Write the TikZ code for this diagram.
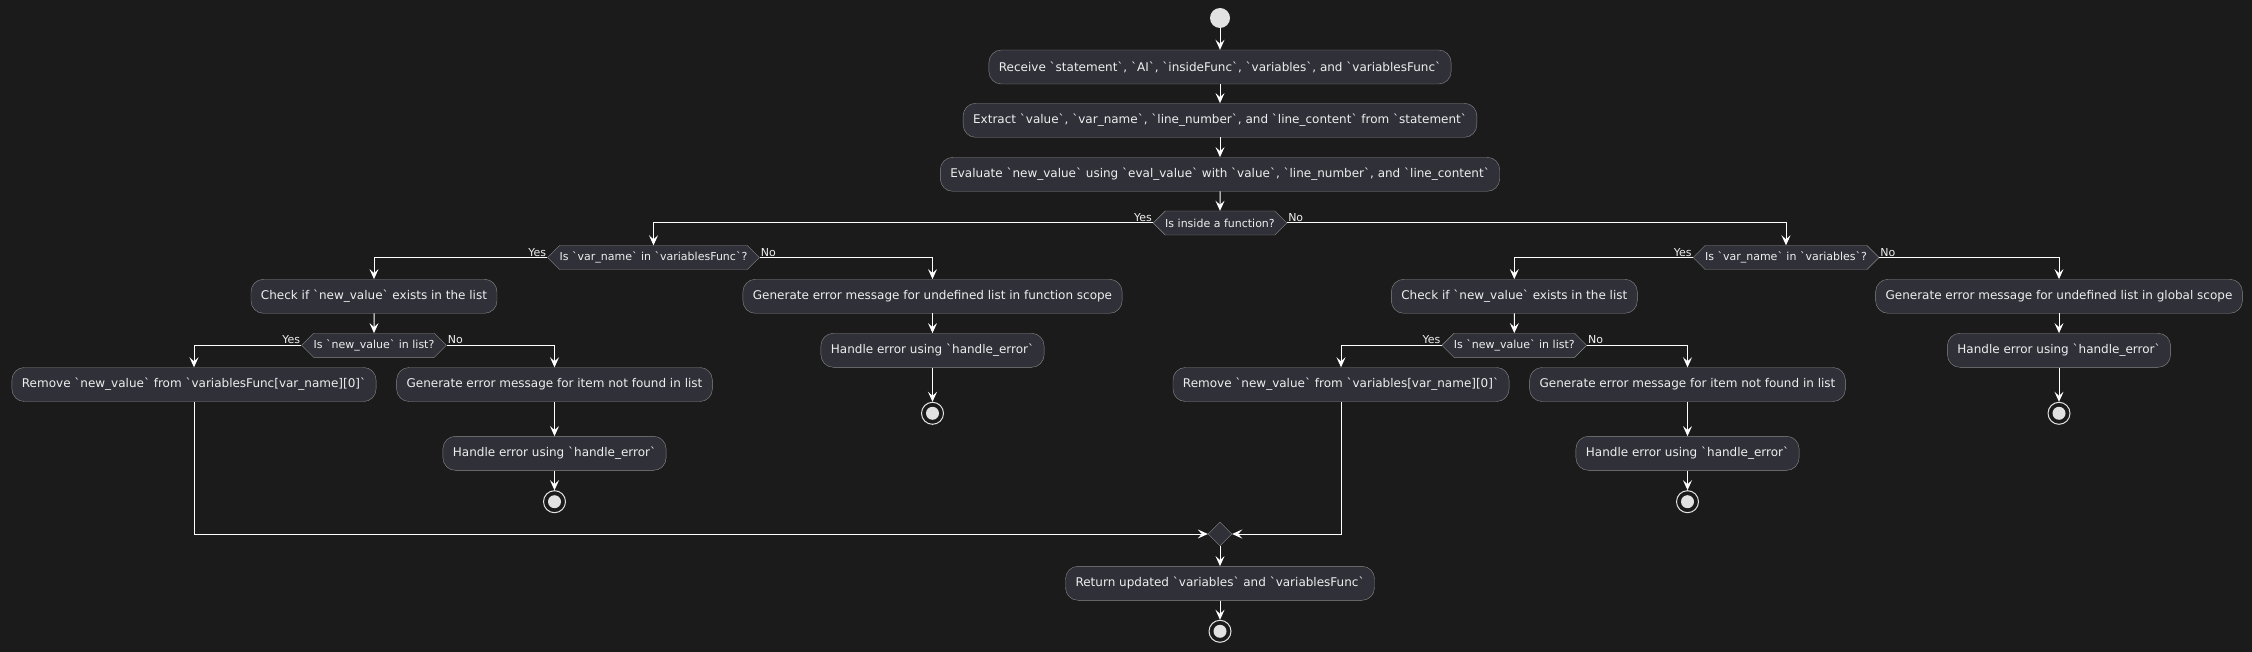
\documentclass[tikz,border=0pt]{standalone}
\usepackage{fontspec}
\setmainfont{DejaVu Sans}[Ligatures=TeXOff]
\usetikzlibrary{arrows.meta,shapes.symbols,shapes.geometric}
\definecolor{bgcol}{HTML}{1B1B1B}
\definecolor{boxcol}{HTML}{303039}
\definecolor{edgecol}{HTML}{8A8A8A}
\definecolor{txtcol}{HTML}{EEEEEE}
\definecolor{dotcol}{HTML}{E2E2E2}

\begin{document}
\begin{tikzpicture}[x=1pt,y=-1pt,
    act/.style={draw=edgecol, fill=boxcol, text=txtcol, rounded corners=12.5pt,
      minimum height=34pt, inner xsep=10pt, font=\fontsize{12}{14}\selectfont},
    cond/.style={signal, signal to=east and west, signal pointer angle=90,
      draw=edgecol, fill=boxcol, text=txtcol, minimum height=24pt,
      inner xsep=0pt, inner ysep=1pt, font=\fontsize{11}{13}\selectfont},
    yesno/.style={text=txtcol, inner sep=1pt, font=\fontsize{11}{13}\selectfont},
    startdot/.style={circle, fill=dotcol, minimum size=20pt, inner sep=0pt},
    stopdot/.style={circle, draw=dotcol, line width=1pt, fill=bgcol, minimum size=22pt,
      inner sep=0pt, path picture={\fill[dotcol] (path picture bounding box.center) circle (6.5pt);}},
    mergebox/.style={diamond, draw=edgecol, fill=boxcol, minimum width=24pt,
      minimum height=24pt, inner sep=0pt},
    flow/.style={draw=white, line width=1pt, -{Stealth[length=10pt,width=9pt,inset=4pt]}}]
  \useasboundingbox (0,0) rectangle (2252,652);
  \fill[bgcol] (0,0) rectangle (2252,652);

  \node[startdot] (start) at (1220,18) {};
  \node[act] (recv) at (1220,67) {Receive `statement`, `AI`, `insideFunc`, `variables`, and `variablesFunc`};
  \node[act] (extract) at (1220,120.3) {Extract `value`, `var\_name`, `line\_number`, and `line\_content` from `statement`};
  \node[act] (eval) at (1220,174.3) {Evaluate `new\_value` using `eval\_value` with `value`, `line\_number`, and `line\_content`};
  \node[cond] (isfunc) at (1220,223) {Is inside a function?};

  \node[cond] (infunc) at (653.5,257.5) {Is `var\_name` in `variablesFunc`?};
  \node[act] (checkf) at (374,296.3) {Check if `new\_value` exists in the list};
  \node[cond] (inlistf) at (374,345.3) {Is `new\_value` in list?};
  \node[act] (removef) at (194,384.5) {Remove `new\_value` from `variablesFunc[var\_name][0]`};
  \node[act] (itemf) at (554.5,384.5) {Generate error message for item not found in list};
  \node[act] (handleitemf) at (554.5,453.3) {Handle error using `handle\_error`};
  \node[stopdot] (stopitemf) at (554.5,501.7) {};
  \node[act] (undeff) at (932.5,296.3) {Generate error message for undefined list in function scope};
  \node[act] (handleundeff) at (932.5,350.3) {Handle error using `handle\_error`};
  \node[stopdot] (stopundeff) at (932.5,413.3) {};

  \node[cond] (invar) at (1786,257.5) {Is `var\_name` in `variables`?};
  \node[act] (checkg) at (1514.3,296.3) {Check if `new\_value` exists in the list};
  \node[cond] (inlistg) at (1514.3,345.3) {Is `new\_value` in list?};
  \node[act] (removeg) at (1341,384.5) {Remove `new\_value` from `variables[var\_name][0]`};
  \node[act] (itemg) at (1687.5,384.5) {Generate error message for item not found in list};
  \node[act] (handleitemg) at (1687.5,453.3) {Handle error using `handle\_error`};
  \node[stopdot] (stopitemg) at (1687.5,501.7) {};
  \node[act] (undefg) at (2059,296.3) {Generate error message for undefined list in global scope};
  \node[act] (handleundefg) at (2059,350.3) {Handle error using `handle\_error`};
  \node[stopdot] (stopundefg) at (2059,413.3) {};

  \node[mergebox] (merge) at (1220,534) {};
  \node[act] (ret) at (1220,583.3) {Return updated `variables` and `variablesFunc`};
  \node[stopdot] (finish) at (1220,631.3) {};

  \draw[flow] (start) -- (recv);
  \draw[flow] (recv) -- (extract);
  \draw[flow] (extract) -- (eval);
  \draw[flow] (eval) -- (isfunc);
  \draw[flow] (isfunc.west) -| (infunc.north);
  \draw[flow] (isfunc.east) -| (invar.north);
  \draw[flow] (infunc.west) -| (checkf.north);
  \draw[flow] (infunc.east) -| (undeff.north);
  \draw[flow] (checkf) -- (inlistf);
  \draw[flow] (inlistf.west) -| (removef.north);
  \draw[flow] (inlistf.east) -| (itemf.north);
  \draw[flow] (itemf) -- (handleitemf);
  \draw[flow] (handleitemf) -- (stopitemf);
  \draw[flow] (undeff) -- (handleundeff);
  \draw[flow] (handleundeff) -- (stopundeff);
  \draw[flow] (invar.west) -| (checkg.north);
  \draw[flow] (invar.east) -| (undefg.north);
  \draw[flow] (checkg) -- (inlistg);
  \draw[flow] (inlistg.west) -| (removeg.north);
  \draw[flow] (inlistg.east) -| (itemg.north);
  \draw[flow] (itemg) -- (handleitemg);
  \draw[flow] (handleitemg) -- (stopitemg);
  \draw[flow] (undefg) -- (handleundefg);
  \draw[flow] (handleundefg) -- (stopundefg);
  \draw[flow] (removef.south) |- (merge.west);
  \draw[flow] (removeg.south) |- (merge.east);
  \draw[flow] (merge) -- (ret);
  \draw[flow] (ret) -- (finish);

  \node[yesno, anchor=south east] at (isfunc.west) {Yes};
  \node[yesno, anchor=south west] at (isfunc.east) {No};
  \node[yesno, anchor=south east] at (infunc.west) {Yes};
  \node[yesno, anchor=south west] at (infunc.east) {No};
  \node[yesno, anchor=south east] at (inlistf.west) {Yes};
  \node[yesno, anchor=south west] at (inlistf.east) {No};
  \node[yesno, anchor=south east] at (invar.west) {Yes};
  \node[yesno, anchor=south west] at (invar.east) {No};
  \node[yesno, anchor=south east] at (inlistg.west) {Yes};
  \node[yesno, anchor=south west] at (inlistg.east) {No};
\end{tikzpicture}
\end{document}
